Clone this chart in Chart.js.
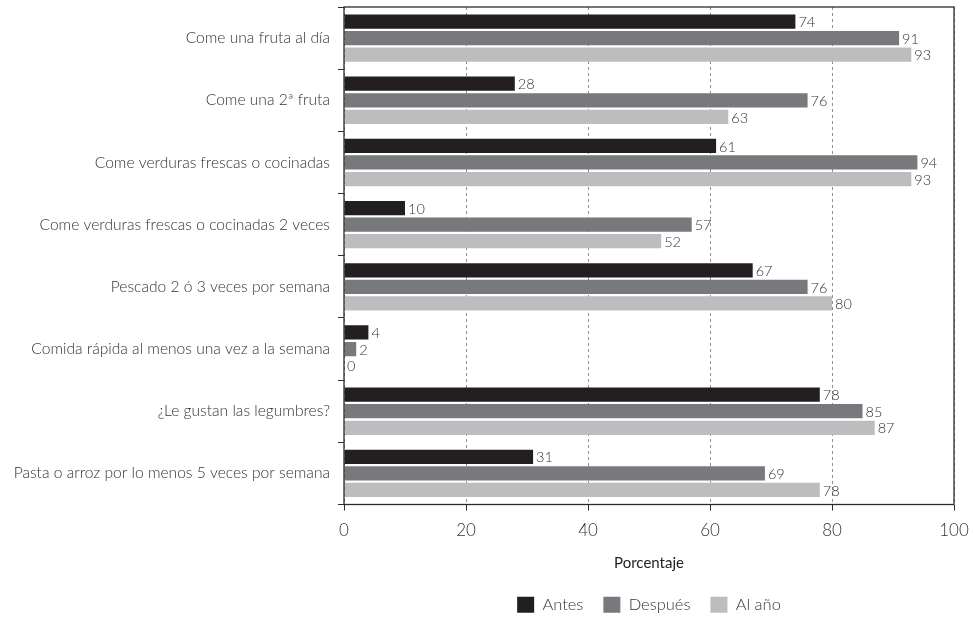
<!DOCTYPE html>
<html lang="es">
<head>
<meta charset="utf-8">
<title>Hábitos alimentarios</title>
<script src="https://cdn.jsdelivr.net/npm/chart.js@4.4.0/dist/chart.umd.min.js"></script>
<style>
  html, body { margin: 0; padding: 0; background: #fff; }
  canvas { display: block; }
</style>
</head>
<body>
<canvas id="habitos" width="974" height="617"></canvas>
<script>
const categorias = [
  'Come una fruta al día',
  'Come una 2ª fruta',
  'Come verduras frescas o cocinadas',
  'Come verduras frescas o cocinadas 2 veces',
  'Pescado 2 ó 3 veces por semana',
  'Comida rápida al menos una vez a la semana',
  '¿Le gustan las legumbres?',
  'Pasta o arroz por lo menos 5 veces por semana'
];
const antes = [74, 28, 61, 10, 67, 4, 78, 31];
const despues = [91, 76, 94, 57, 76, 2, 85, 69];
const alAnio = [93, 63, 93, 52, 80, 0, 87, 78];
const ejeX = { min: 0, max: 100, paso: 20 };

const FUENTE = "Lato, 'Open Sans', sans-serif";
const TEXTO = '#333333';

// etiquetas con el valor al final de cada barra
const valores = {
  id: 'valores',
  afterDatasetsDraw(chart) {
    const ctx = chart.ctx;
    ctx.save();
    ctx.font = '300 14.5px ' + FUENTE;
    ctx.fillStyle = TEXTO;
    ctx.textAlign = 'left';
    ctx.textBaseline = 'middle';
    chart.data.datasets.forEach((ds, i) => {
      chart.getDatasetMeta(i).data.forEach((barra, j) => {
        ctx.fillText(String(ds.data[j]), barra.x + 3, barra.y + 1);
      });
    });
    ctx.restore();
  }
};

// marco alrededor del área de trazado
const marco = {
  id: 'marco',
  afterDraw(chart) {
    const a = chart.chartArea;
    const ctx = chart.ctx;
    ctx.save();
    ctx.strokeStyle = '#2b2b2b';
    ctx.lineWidth = 1.3;
    ctx.strokeRect(a.left, a.top, a.right - a.left, a.bottom - a.top);
    ctx.restore();
  }
};

new Chart(document.getElementById('habitos').getContext('2d'), {
  type: 'bar',
  data: {
    labels: categorias,
    datasets: [
      { label: 'Antes', data: antes, backgroundColor: '#231f20' },
      { label: 'Después', data: despues, backgroundColor: '#78797c' },
      { label: 'Al año', data: alAnio, backgroundColor: '#bcbdbf' }
    ]
  },
  options: {
    indexAxis: 'y',
    responsive: false,
    animation: false,
    devicePixelRatio: 1,
    categoryPercentage: 0.8,
    barPercentage: 0.86,
    layout: { padding: { top: 7, right: 20, left: 0, bottom: -6 } },
    plugins: {
      tooltip: { enabled: false },
      legend: {
        position: 'bottom',
        fullSize: false,
        labels: {
          boxWidth: 17,
          boxHeight: 16,
          padding: 20,
          color: TEXTO,
          font: { family: FUENTE, size: 16.5, weight: '300' }
        }
      }
    },
    scales: {
      x: {
        min: ejeX.min,
        max: ejeX.max,
        afterFit(scale) {
          scale.height = 72;
          scale.paddingLeft = 0;
          scale.paddingRight = 0;
        },
        ticks: {
          stepSize: ejeX.paso,
          padding: 10,
          color: TEXTO,
          font: { family: FUENTE, size: 17, weight: '300' }
        },
        grid: {
          color: '#8f8f8f',
          tickLength: 6,
          tickColor: '#2b2b2b',
          tickBorderDash: []
        },
        // en v4 el trazo discontinuo de la rejilla sale de border.dash
        border: { display: false, dash: [3, 3] },
        title: {
          display: true,
          text: 'Porcentaje',
          color: '#222',
          padding: { top: 0, bottom: 4 },
          font: { family: FUENTE, size: 15, weight: '400' }
        }
      },
      y: {
        afterFit(scale) {
          scale.width = 344;
          scale.paddingTop = 0;
          scale.paddingBottom = 0;
        },
        ticks: {
          padding: 8,
          color: TEXTO,
          font: { family: FUENTE, size: 15.6, weight: '300' }
        },
        grid: {
          offset: true,
          drawOnChartArea: false,
          tickLength: 6,
          color: '#2b2b2b'
        },
        border: { display: false }
      }
    }
  },
  plugins: [valores, marco]
});
</script>
</body>
</html>
